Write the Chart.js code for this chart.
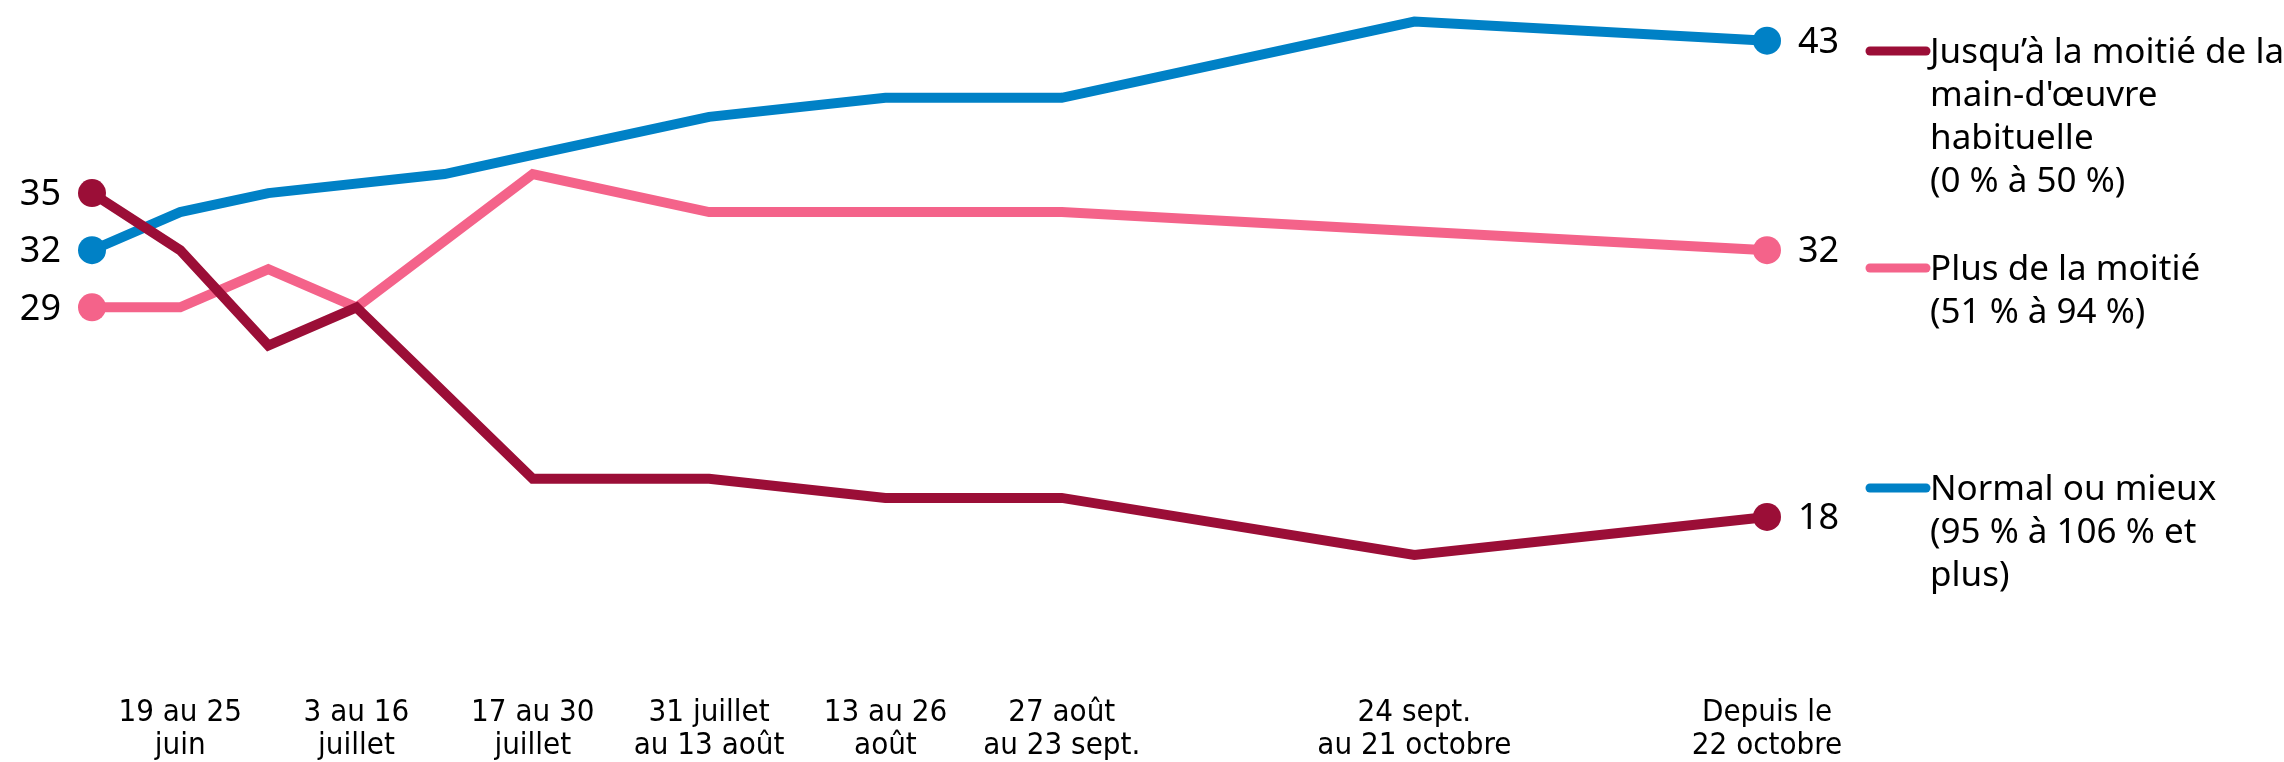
<!DOCTYPE html>
<html lang="fr">
<head>
<meta charset="utf-8">
<script src="https://cdn.jsdelivr.net/npm/chart.js@4.4.1/dist/chart.umd.min.js"></script>
<style>
    html, body { margin: 0; padding: 0; background: #fff; }
    canvas { display: block; }
</style>
</head>
<body>
<canvas id="graphique" width="2284" height="762"></canvas>
<script>
// semaines depuis le début de la série (axe proportionnel au temps)
const semaines = [0, 1, 2, 3, 4, 5, 7, 9, 11, 15, 19];
const moitieOuMoins = [35, 32, 27, 29, null, 20, 20, 19, 19, 16, 18];
const plusDeLaMoitie = [29, 29, 31, 29, null, 36, 34, 34, 34, 33, 32];
const normalOuMieux = [32, 34, 35, null, 36, 37, 39, 40, 40, 44, 43];

const positionsEtiquettes = [1, 3, 5, 7, 9, 11, 15, 19];
const etiquettes = [
    ['19 au 25', 'juin'],
    ['3 au 16', 'juillet'],
    ['17 au 30', 'juillet'],
    ['31 juillet', 'au 13 août'],
    ['13 au 26', 'août'],
    ['27 août', 'au 23 sept.'],
    ['24 sept.', 'au 21 octobre'],
    ['Depuis le', '22 octobre']
];

const legendes = [
    ['Jusqu’à la moitié de la', "main-d'œuvre", 'habituelle', '(0 % à 50 %)'],
    ['Plus de la moitié', '(51 % à 94 %)'],
    ['Normal ou mieux', '(95 % à 106 % et', 'plus)']
];
const couleurs = ['#9b0e37', '#f4638a', '#0081c6'];

function points(serie) {
    return semaines.map((s, i) => ({ x: s, y: serie[i] }));
}

function rayon(ctx) {
    const n = ctx.dataset.data.length;
    return (ctx.dataIndex === 0 || ctx.dataIndex === n - 1) ? 14 : 0;
}

const etiquettesValeurs = {
    id: 'etiquettesValeurs',
    afterDatasetsDraw(chart) {
        const ctx = chart.ctx;
        const x = chart.scales.x;
        const y = chart.scales.y;
        ctx.save();
        ctx.fillStyle = '#000';
        ctx.font = '36px "Noto Sans"';
        ctx.textBaseline = 'middle';
        chart.data.datasets.forEach(ds => {
            const valides = ds.data.filter(p => p.y !== null);
            const premier = valides[0];
            const dernier = valides[valides.length - 1];
            ctx.textAlign = 'right';
            ctx.fillText(premier.y, x.getPixelForValue(premier.x) - 31, y.getPixelForValue(premier.y) + 2);
            ctx.textAlign = 'left';
            ctx.fillText(dernier.y, x.getPixelForValue(dernier.x) + 31, y.getPixelForValue(dernier.y) + 2);
        });

        // légende à droite
        const hauts = [51, 268, 488];
        ctx.font = '35px "Noto Sans"';
        ctx.textAlign = 'left';
        legendes.forEach((lignes, i) => {
            ctx.strokeStyle = couleurs[i];
            ctx.lineWidth = 9;
            ctx.lineCap = 'round';
            ctx.beginPath();
            ctx.moveTo(1870, hauts[i]);
            ctx.lineTo(1926, hauts[i]);
            ctx.stroke();
            lignes.forEach((t, j) => ctx.fillText(t, 1930, hauts[i] + 2 + j * 43));
        });
        ctx.restore();
    }
};

new Chart(document.getElementById('graphique'), {
    type: 'line',
    data: {
        datasets: [
            { label: legendes[0].join(' '), data: points(moitieOuMoins), borderColor: couleurs[0], backgroundColor: couleurs[0] },
            { label: legendes[1].join(' '), data: points(plusDeLaMoitie), borderColor: couleurs[1], backgroundColor: couleurs[1] },
            { label: legendes[2].join(' '), data: points(normalOuMieux), borderColor: couleurs[2], backgroundColor: couleurs[2] }
        ]
    },
    options: {
        responsive: false,
        animation: false,
        spanGaps: true,
        clip: false,
        layout: { padding: { left: 92, right: 517, top: 0, bottom: 0 } },
        elements: {
            line: { borderWidth: 10, tension: 0, borderJoinStyle: 'miter' },
            point: { radius: rayon, borderWidth: 0, hoverRadius: rayon }
        },
        plugins: { legend: { display: false }, tooltip: { enabled: false } },
        scales: {
            x: {
                type: 'linear',
                min: 0,
                max: 19,
                grid: { display: false, drawTicks: false },
                border: { display: false },
                afterBuildTicks: scale => { scale.ticks = positionsEtiquettes.map(v => ({ value: v })); },
                ticks: {
                    autoSkip: false,
                    maxRotation: 0,
                    padding: 0,
                    color: '#000',
                    font: { family: '"DejaVu Sans Condensed", "Liberation Sans Narrow", "DejaVu Sans"', size: 31, lineHeight: '33px' },
                    callback: v => etiquettes[positionsEtiquettes.indexOf(v)]
                }
            },
            y: { display: false, min: 8.6, max: 44.4 }
        }
    },
    plugins: [etiquettesValeurs]
});
</script>
</body>
</html>
